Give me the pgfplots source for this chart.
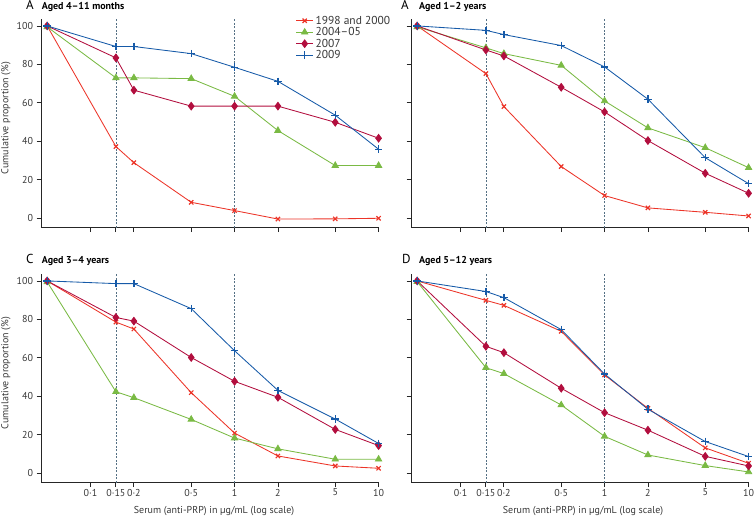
\documentclass[border=0pt]{standalone}
\usepackage{fontspec}
\setmainfont{PT Sans}
\usepackage{pgfplots}
\pgfplotsset{compat=1.18}
\definecolor{cr}{RGB}{236,52,40}
\definecolor{cg}{RGB}{122,186,68}
\definecolor{cm}{RGB}{178,14,62}
\definecolor{cb}{RGB}{22,90,168}
\definecolor{cd}{RGB}{85,112,132}
\definecolor{tx}{RGB}{55,55,55}
\newcommand{\fs}{\fontsize{10}{12}\selectfont}
\pgfplotsset{
 every axis/.append style={
  scale only axis, width=337.6pt, height=208.7pt,
  xmin=0.0453, xmax=10, ymin=-4.9, ymax=103.6,
  axis x line*=bottom, axis y line*=left,
  axis line style={line width=0.9pt, black!85},
  tick align=outside, major tick length=4.5pt,
  tick style={line width=0.8pt, black!85},
  xtick={0.1,0.15,0.2,0.5,1,2,5,10},
  ytick={0,20,40,60,80,100},
  tick label style={font=\fs, text=tx},
  xticklabel style={inner sep=1.5pt},
  clip=false,
 },
}
\tikzset{
 mysa/.style={color=cr, line width=0.85pt, mark=x, mark size=3pt, mark options={line width=1.2pt}},
 mysb/.style={color=cg, line width=0.85pt, mark=triangle*, mark size=3.6pt},
 mysc/.style={color=cm, line width=0.85pt, mark=diamond*, mark size=3.8pt},
 mysd/.style={color=cb, line width=0.85pt, mark=+, mark size=3.8pt, mark options={line width=1.3pt}},
 mydl/.style={color=cd, line width=0.75pt, dash pattern=on 2pt off 1.5pt},
}
\begin{document}
\begin{tikzpicture}
\path[use as bounding box] (0,0) rectangle (755pt,520pt);
% Panel A
\begin{axis}[xmode=log, xticklabels={}, yticklabels={0,20,40,60,80,100}, at={(41pt,292.3pt)}, anchor=south west,
  legend style={draw=none, fill=none, at={(0.745,1.035)}, anchor=north west, font=\fontsize{11.5}{13}\selectfont, text=tx, row sep=-2.2pt},
  legend cell align=left]
\addplot[mydl, forget plot] coordinates {(0.15,-4.9) (0.15,103.6)};
\addplot[mydl, forget plot] coordinates {(1,-4.9) (1,103.6)};
\addplot[mysa] coordinates {(0.05,100) (0.15,37.3) (0.2,28.9) (0.5,8.3) (1,4.0) (2,-0.4) (5,-0.3) (10,0)};
\addplot[mysb] coordinates {(0.05,99.5) (0.15,73.0) (0.2,73.0) (0.5,72.6) (1,63.4) (2,45.6) (5,27.4) (10,27.4)};
\addplot[mysc] coordinates {(0.05,100) (0.15,83.4) (0.2,66.6) (0.5,58.3) (1,58.3) (2,58.3) (5,49.9) (10,41.6)};
\addplot[mysd] coordinates {(0.05,100) (0.15,89.3) (0.2,89.3) (0.5,85.6) (1,78.5) (2,71.2) (5,53.6) (10,35.9)};
\legend{1998 and 2000,2004–05,2007,2009}
\end{axis}
% Panel B
\begin{axis}[xmode=log, xticklabels={}, yticklabels={}, at={(411pt,292.3pt)}, anchor=south west]
\addplot[mydl, forget plot] coordinates {(0.15,-4.9) (0.15,103.6)};
\addplot[mydl, forget plot] coordinates {(1,-4.9) (1,103.6)};
\addplot[mysa] coordinates {(0.05,100) (0.15,75.2) (0.2,58.1) (0.5,26.9) (1,11.8) (2,5.4) (5,3.1) (10,1.2)};
\addplot[mysb] coordinates {(0.05,99.5) (0.15,88.6) (0.2,85.6) (0.5,79.5) (1,61.0) (2,47.0) (5,36.7) (10,26.3)};
\addplot[mysc] coordinates {(0.05,100) (0.15,87.5) (0.2,84.4) (0.5,68.1) (1,55.3) (2,40.4) (5,23.4) (10,13.0)};
\addplot[mysd] coordinates {(0.05,100) (0.15,97.7) (0.2,95.5) (0.5,89.8) (1,78.7) (2,61.9) (5,31.5) (10,18.0)};
\end{axis}
% Panel C
\begin{axis}[xmode=log, xticklabels={0·1,0·15,0·2,0·5,1,2,5,10}, yticklabels={0,20,40,60,80,100}, at={(41pt,37.3pt)}, anchor=south west]
\addplot[mydl, forget plot] coordinates {(0.15,-4.9) (0.15,103.6)};
\addplot[mydl, forget plot] coordinates {(1,-4.9) (1,103.6)};
\addplot[mysa] coordinates {(0.05,100) (0.15,78.6) (0.2,75.0) (0.5,41.9) (1,20.9) (2,9.0) (5,3.8) (10,2.6)};
\addplot[mysb] coordinates {(0.05,99.5) (0.15,42.4) (0.2,39.3) (0.5,28.0) (1,18.3) (2,12.7) (5,7.3) (10,7.3)};
\addplot[mysc] coordinates {(0.05,100) (0.15,81.0) (0.2,79.1) (0.5,60.2) (1,47.8) (2,39.5) (5,22.8) (10,14.4)};
\addplot[mysd] coordinates {(0.05,100) (0.15,98.6) (0.2,98.6) (0.5,85.6) (1,63.7) (2,43.1) (5,28.2) (10,15.5)};
\end{axis}
% Panel D
\begin{axis}[xmode=log, xticklabels={0·1,0·15,0·2,0·5,1,2,5,10}, yticklabels={}, at={(411pt,37.3pt)}, anchor=south west]
\addplot[mydl, forget plot] coordinates {(0.15,-4.9) (0.15,103.6)};
\addplot[mydl, forget plot] coordinates {(1,-4.9) (1,103.6)};
\addplot[mysa] coordinates {(0.05,100) (0.15,89.9) (0.2,87.3) (0.5,73.8) (1,51.1) (2,33.8) (5,13.2) (10,5.2)};
\addplot[mysb] coordinates {(0.05,99.6) (0.15,54.9) (0.2,51.8) (0.5,35.5) (1,19.2) (2,9.5) (5,4.0) (10,0.7)};
\addplot[mysc] coordinates {(0.05,100) (0.15,66.0) (0.2,62.7) (0.5,44.2) (1,31.5) (2,22.4) (5,8.8) (10,3.8)};
\addplot[mysd] coordinates {(0.05,100) (0.15,94.5) (0.2,91.3) (0.5,74.7) (1,51.6) (2,33.3) (5,16.5) (10,8.7)};
\end{axis}
% titles
\node[anchor=base west, inner sep=0, font=\fontsize{13}{13}\selectfont] at (26pt,510.5pt) {A};
\node[anchor=base west, inner sep=0, font=\fs\bfseries] at (41.7pt,510.5pt) {Aged 4–11 months};
\node[anchor=base west, inner sep=0, font=\fontsize{13}{13}\selectfont] at (401pt,510.5pt) {A};
\node[anchor=base west, inner sep=0, font=\fs\bfseries] at (419pt,510.5pt) {Aged 1–2 years};
\node[anchor=base west, inner sep=0, font=\fontsize{13}{13}\selectfont] at (26pt,256.3pt) {C};
\node[anchor=base west, inner sep=0, font=\fs\bfseries] at (41.7pt,256.3pt) {Aged 3–4 years};
\node[anchor=base west, inner sep=0, font=\fontsize{13}{13}\selectfont] at (402pt,256.3pt) {D};
\node[anchor=base west, inner sep=0, font=\fs\bfseries] at (419pt,256.3pt) {Aged 5–12 years};
% axis labels
\node[rotate=90, inner sep=0, font=\fs, text=tx] at (6pt,402pt) {Cumulative proportion (\%)};
\node[rotate=90, inner sep=0, font=\fs, text=tx] at (6pt,147pt) {Cumulative proportion (\%)};
\node[inner sep=0, font=\fs, text=tx] at (214pt,8.5pt) {Serum (anti-PRP) in µg/mL (log scale)};
\node[inner sep=0, font=\fs, text=tx] at (583pt,8.5pt) {Serum (anti-PRP) in µg/mL (log scale)};
\end{tikzpicture}
\end{document}
